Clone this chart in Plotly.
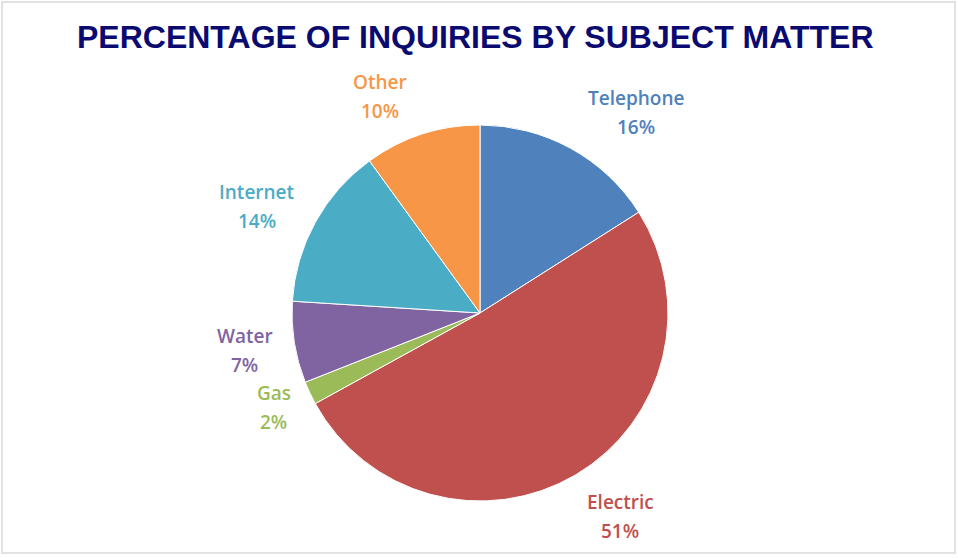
import math
import plotly.graph_objects as go

# ---- data ----
categories = ["Telephone", "Electric", "Gas", "Water", "Internet", "Other"]
values = [16, 51, 2, 7, 14, 10]
colors = ["#4F81BD", "#C0504D", "#9BBB59", "#8064A2", "#4BACC6", "#F79646"]
title_text = "PERCENTAGE OF INQUIRIES BY SUBJECT MATTER"

# ---- layout geometry (pixels) ----
W, H = 958, 558
CX, CY, R = 480, 313, 188
LABEL_DIST = 240
# small per-label nudges (pixels) mimicking Excel's best-fit label placement
nudges = {"Telephone": (40, 10), "Electric": (18, -3), "Gas": (11, -8),
          "Water": (2, 0), "Internet": (-13, 9), "Other": (-26, 12)}

def px(x):
    return x / W

def py(y):
    return 1 - y / H

fig = go.Figure(go.Pie(
    labels=categories,
    values=values,
    sort=False,
    direction="clockwise",
    rotation=0,
    marker=dict(colors=colors, line=dict(color="white", width=1)),
    textinfo="none",
    hoverinfo="label+percent",
    showlegend=False,
    domain=dict(x=[px(CX - R), px(CX + R)], y=[py(CY + R), py(CY - R)]),
))

annotations = []
total = sum(values)
cum = 0
for name, v, c in zip(categories, values, colors):
    mid = (cum + v / 2) / total * 2 * math.pi
    cum += v
    dx, dy = nudges[name]
    lx = CX + math.sin(mid) * LABEL_DIST + dx
    ly = CY - math.cos(mid) * LABEL_DIST + dy
    pct = round(v / total * 100)
    for txt, off in ((name, -14.5), (f"{pct}%", 14.5)):
        annotations.append(dict(
            x=px(lx), y=py(ly + off), xref="paper", yref="paper",
            text=txt, showarrow=False, xanchor="center", yanchor="middle",
            font=dict(family="Open Sans", size=19, color=c, weight=600),
        ))

annotations.append(dict(
    x=px(475), y=py(37), xref="paper", yref="paper", text=f"<b>{title_text}</b>",
    showarrow=False, xanchor="center", yanchor="middle",
    font=dict(family="Liberation Sans", size=32, color="#0A0A70"),
))

fig.update_layout(
    width=W, height=H,
    margin=dict(l=0, r=0, t=0, b=0),
    paper_bgcolor="white",
    plot_bgcolor="white",
    annotations=annotations,
    shapes=[dict(type="rect", xref="paper", yref="paper",
                 x0=px(2), x1=px(955), y0=py(553), y1=py(2),
                 line=dict(color="#D9D9D9", width=1.5))],
)

fig.write_html("out.html")
